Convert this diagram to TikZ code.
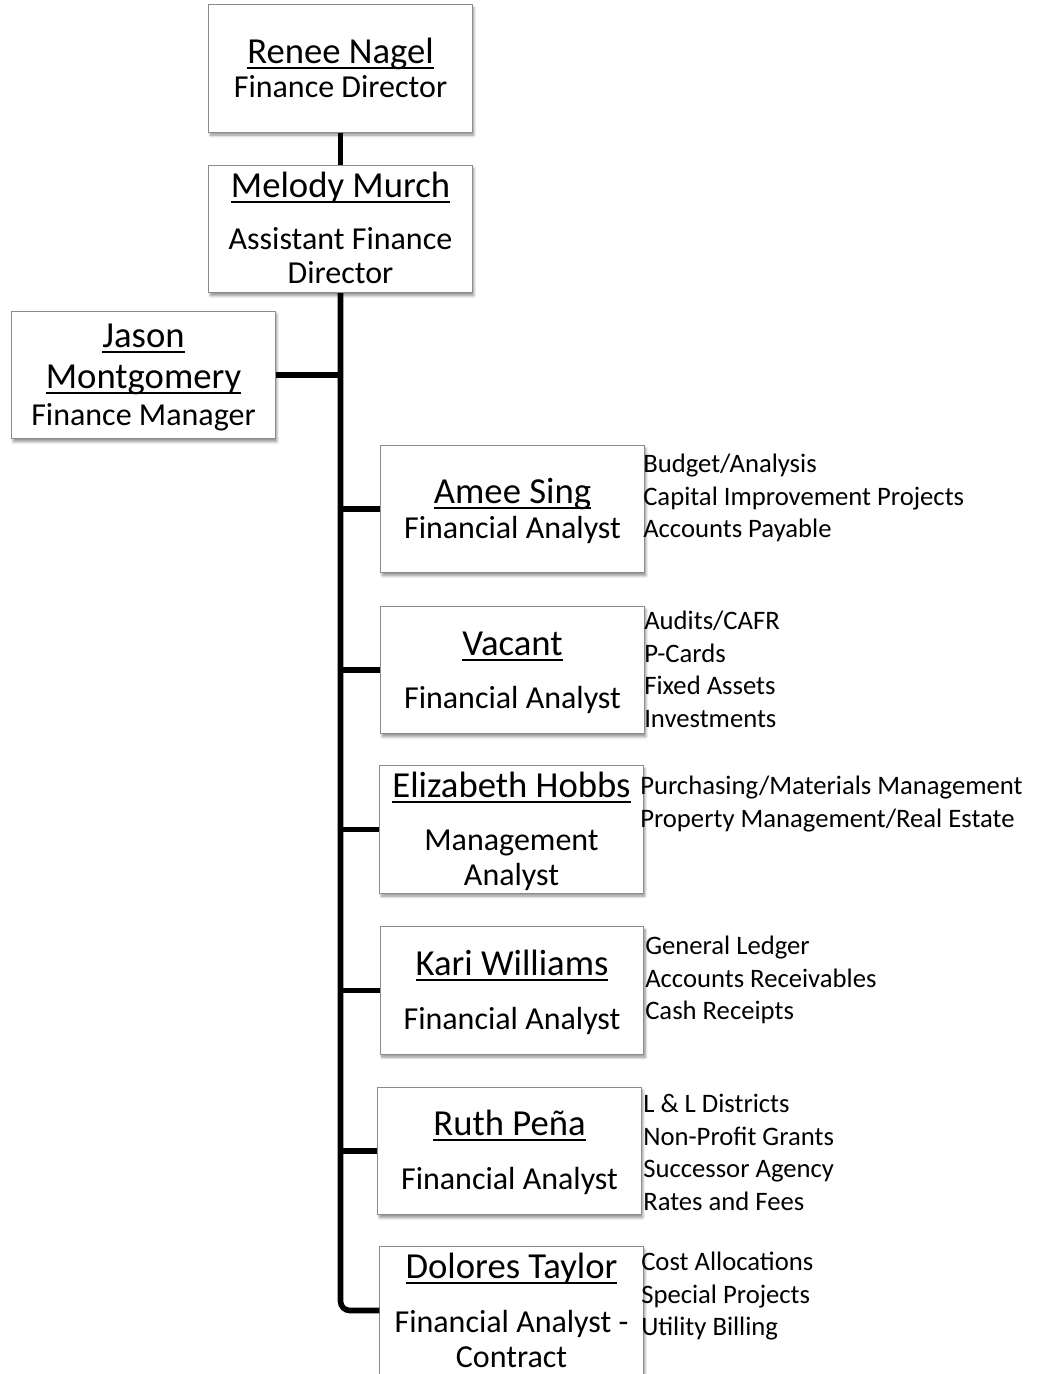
\documentclass[tikz,border=0pt]{standalone}
\usepackage{fontspec}
\setmainfont{Carlito}
\usetikzlibrary{shadows.blur}

% underline with a heavier rule, as in the org chart headings
\newcommand\nameline[1]{\setbox0\hbox{#1}\rlap{\rule[-4.3pt]{\wd0}{1.5pt}}\box0}

% one line of duties per node, stacked from a first baseline
\newcommand\dutylist[4]{%
  \foreach \d [count=\k from 0] in {#4} {
    \node[duty] (#1-\k) at (#2,{#3+32.7*\k}) {\d};
  }}

\tikzset{
  card/.style={draw=black!45, line width=0.6pt, fill=white,
    minimum width=197.5pt, minimum height=95.5pt, inner sep=0pt,
    blur shadow={shadow xshift=1.2pt, shadow yshift=-2.2pt,
      shadow blur steps=6, shadow opacity=45, shadow blur radius=2pt}},
  link/.style={line width=4.2pt, black},
  who/.style={anchor=base, inner sep=0pt, font=\fontsize{27.5}{33}\selectfont},
  role/.style={anchor=base, inner sep=0pt, font=\fontsize{24}{29}\selectfont},
  duty/.style={anchor=base west, inner sep=0pt, font=\fontsize{20}{24}\selectfont},
}

\begin{document}
\begin{tikzpicture}[x=0.75pt,y=-0.75pt]
\useasboundingbox (0,0) rectangle (1041,1374);
\clip (0,0) rectangle (1041,1374);

% boxes
\node[card] (renee)   at (340.5,68.5)  {};
\node[card] (melody)  at (340.5,229)   {};
\node[card] (jason)   at (143.5,375)   {};
\node[card] (amee)    at (512.5,509)   {};
\node[card] (vacant)  at (512.5,670)   {};
\node[card] (eliz)    at (511.5,829.5) {};
\node[card] (kari)    at (512,990.5)   {};
\node[card] (ruth)    at (509.5,1151)  {};
\node[card] (dolores) at (511.5,1310.5){};

% connectors
\draw[link] (renee.south) -- (melody.north);
\draw[link, rounded corners=7pt] (melody.south) |- (dolores.west);
\draw[link] (jason.east) -- (jason.east -| melody.south);
\foreach \b in {amee,vacant,eliz,kari,ruth}
  \draw[link] (\b.west -| melody.south) -- (\b.west);

% names and titles
\node[who]  (renee-n)  at (340.5,63) {\nameline{Renee Nagel}};
\node[role] (renee-t)  at (340.5,97) {Finance Director};

\node[who]  (melody-n)  at (340.5,197) {\nameline{Melody Murch}};
\node[role] (melody-t1) at (340.5,249) {Assistant Finance};
\node[role] (melody-t2) at (340.5,283) {Director};

\node[who]  (jason-n1) at (143.5,347) {\nameline{Jason}};
\node[who]  (jason-n2) at (143.5,388) {\nameline{Montgomery}};
\node[role] (jason-t)  at (143.5,425) {Finance Manager};

\node[who]  (amee-n) at (512.5,503) {\nameline{Amee Sing}};
\node[role] (amee-t) at (512.5,538) {Financial Analyst};

\node[who]  (vacant-n) at (512.5,655) {\nameline{Vacant}};
\node[role] (vacant-t) at (512.5,708) {Financial Analyst};

\node[who]  (eliz-n)  at (511.5,797) {\nameline{Elizabeth Hobbs}};
\node[role] (eliz-t1) at (511.5,850) {Management};
\node[role] (eliz-t2) at (511.5,885) {Analyst};

\node[who]  (kari-n) at (512,975)  {\nameline{Kari Williams}};
\node[role] (kari-t) at (512,1029) {Financial Analyst};

\node[who]  (ruth-n) at (509.5,1135) {\nameline{Ruth Peña}};
\node[role] (ruth-t) at (509.5,1189) {Financial Analyst};

\node[who]  (dolores-n)  at (511.5,1278) {\nameline{Dolores Taylor}};
\node[role] (dolores-t1) at (511.5,1332) {Financial Analyst -};
\node[role] (dolores-t2) at (511.5,1367) {Contract};

% duties
\dutylist{amee-d}{643}{472.5}{{Budget/Analysis},{Capital Improvement Projects},{Accounts Payable}}
\dutylist{vacant-d}{644}{629.5}{{Audits/CAFR},{P-Cards},{Fixed Assets},{Investments}}
\dutylist{eliz-d}{640}{794.5}{{Purchasing/Materials Management},{Property Management/Real Estate}}
\dutylist{kari-d}{645}{954.5}{{General Ledger},{Accounts Receivables},{Cash Receipts}}
\dutylist{ruth-d}{643}{1112.5}{{L \& L Districts},{Non-Profit Grants},{Successor Agency},{Rates and Fees}}
\dutylist{dolores-d}{641}{1270.5}{{Cost Allocations},{Special Projects},{Utility Billing}}
\end{tikzpicture}
\end{document}
